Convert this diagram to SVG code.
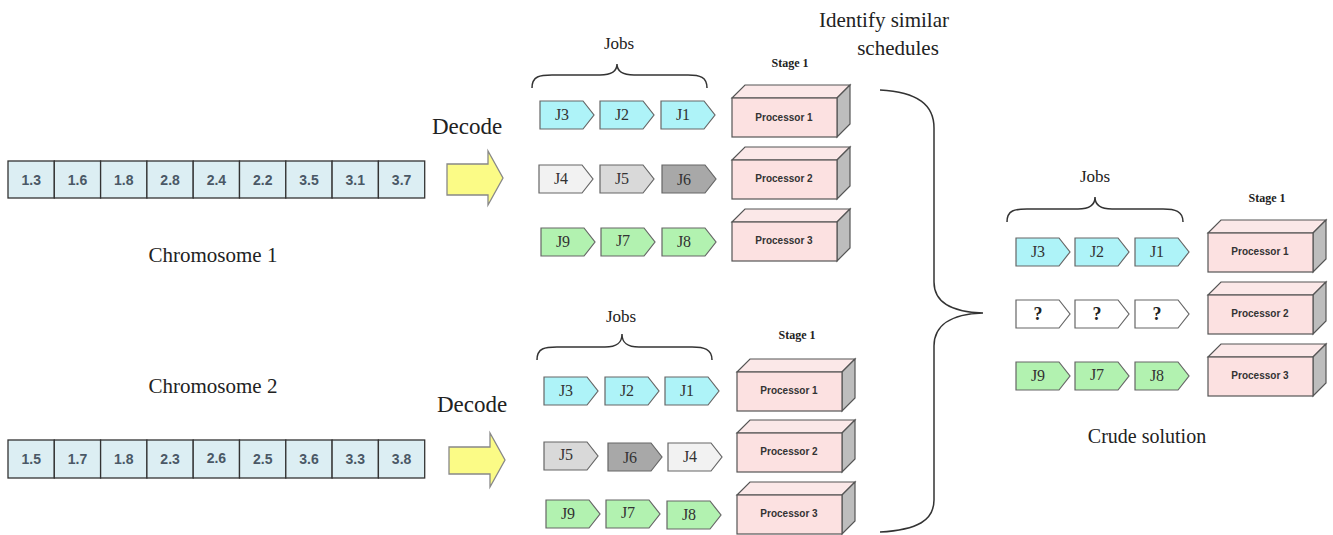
<svg xmlns="http://www.w3.org/2000/svg" xmlns:xlink="http://www.w3.org/1999/xlink" width="1333" height="535" viewBox="0 0 1333 535">
<style>
.cell{fill:#dceef3;stroke:#333;stroke-width:1.3}
.ct{font-family:"Liberation Sans",Arial,sans-serif;font-weight:bold;font-size:14px;fill:#4a5866;text-anchor:middle}
.big{font-family:"Liberation Serif","Times New Roman",serif;font-size:21px;fill:#222;text-anchor:middle}
.jobs{font-family:"Liberation Serif","Times New Roman",serif;font-size:17px;fill:#222;text-anchor:middle}
.jt{font-family:"Liberation Serif","Times New Roman",serif;font-size:16px;fill:#333;text-anchor:middle}
.q{font-family:"Liberation Serif","Times New Roman",serif;font-size:18px;font-weight:bold;fill:#222;text-anchor:middle}
.stage{font-family:"Liberation Serif","Times New Roman",serif;font-size:12px;font-weight:bold;fill:#222;text-anchor:middle}
.pt{font-family:"Liberation Sans",Arial,sans-serif;font-size:10px;font-weight:bold;fill:#333;text-anchor:middle}
.brace{fill:none;stroke:#333;stroke-width:1.5}
.arrow{fill:#fbfb86;stroke:#888;stroke-width:1.3}
.cy{fill:#aef3f8}
.gr{fill:#b2f2b0}
.w{fill:#ffffff}
.g1{fill:#f2f2f2}
.g2{fill:#d9d9d9}
.g3{fill:#a8a8a8}
</style>
<defs>
<path id="job" d="M0,0 H43 L54,14 L43,28 H0 Z" stroke="#666" stroke-width="1.2"/>
<g id="proc" stroke="#555" stroke-width="1.2">
<polygon points="0,0 13,-13 118,-13 105,0" fill="#fbe8e8"/>
<polygon points="105,0 118,-13 118,26 105,39" fill="#bdbdbd"/>
<rect x="0" y="0" width="105" height="39" fill="#fce1e1"/>
</g>
</defs>

<g id="chromosome1">
<rect class="cell" x="8" y="161" width="46.3" height="37"/><text class="ct" x="31.2" y="185">1.3</text>
<rect class="cell" x="54.3" y="161" width="46.3" height="37"/><text class="ct" x="77.5" y="185">1.6</text>
<rect class="cell" x="100.6" y="161" width="46.3" height="37"/><text class="ct" x="123.8" y="185">1.8</text>
<rect class="cell" x="146.9" y="161" width="46.3" height="37"/><text class="ct" x="170.1" y="185">2.8</text>
<rect class="cell" x="193.2" y="161" width="46.3" height="37"/><text class="ct" x="216.4" y="185">2.4</text>
<rect class="cell" x="239.5" y="161" width="46.3" height="37"/><text class="ct" x="262.7" y="185">2.2</text>
<rect class="cell" x="285.8" y="161" width="46.3" height="37"/><text class="ct" x="309" y="185">3.5</text>
<rect class="cell" x="332.1" y="161" width="46.3" height="37"/><text class="ct" x="355.3" y="185">3.1</text>
<rect class="cell" x="378.4" y="161" width="46.3" height="37"/><text class="ct" x="401.6" y="185">3.7</text>
<text class="big" x="213" y="262">Chromosome 1</text>
</g>

<g id="chromosome2">
<rect class="cell" x="8" y="440" width="46.3" height="38"/><text class="ct" x="31.2" y="464">1.5</text>
<rect class="cell" x="54.3" y="440" width="46.3" height="38"/><text class="ct" x="77.5" y="464">1.7</text>
<rect class="cell" x="100.6" y="440" width="46.3" height="38"/><text class="ct" x="123.8" y="464">1.8</text>
<rect class="cell" x="146.9" y="440" width="46.3" height="38"/><text class="ct" x="170.1" y="464">2.3</text>
<rect class="cell" x="193.2" y="440" width="46.3" height="38"/><text class="ct" x="216.4" y="463">2.6</text>
<rect class="cell" x="239.5" y="440" width="46.3" height="38"/><text class="ct" x="262.7" y="464">2.5</text>
<rect class="cell" x="285.8" y="440" width="46.3" height="38"/><text class="ct" x="309" y="464">3.6</text>
<rect class="cell" x="332.1" y="440" width="46.3" height="38"/><text class="ct" x="355.3" y="464">3.3</text>
<rect class="cell" x="378.4" y="440" width="46.3" height="38"/><text class="ct" x="401.6" y="464">3.8</text>
<text class="big" x="213" y="393">Chromosome 2</text>
</g>

<g id="connectors">
<polygon class="arrow" points="447,164 488,164 488,151 503,178 488,205 488,195 447,195"/>
<polygon class="arrow" points="449,447 490,447 490,433 505,460 490,487 490,474 449,474"/>
<path class="brace" d="M880,90 C918,92 934,105 934,128 L934,282 C934,302 950,312 983,313 C950,314 934,326 934,346 L934,500 C934,520 918,530 880,532"/>
</g>

<g id="decode1"><text class="big" x="467" y="134" style="font-size:23px">Decode</text></g>
<g id="decode2"><text class="big" x="472" y="412" style="font-size:23px">Decode</text></g>
<g id="identify"><text class="big" x="884" y="27">Identify similar</text><text class="big" x="898" y="55">schedules</text></g>

<g id="schedule1">
<text class="jobs" x="619" y="49">Jobs</text>
<path class="brace" d="M532,88 C532,76 540,75 552,75 L600,75 C612,75 617,71 617,64 C617,71 622,75 634,75 L688,75 C700,75 707,77 707,88"/>
<text class="stage" x="790" y="67">Stage 1</text>
<use href="#job" xlink:href="#job" x="540" y="101" class="cy"/><text class="jt" x="562" y="120">J3</text>
<use href="#job" xlink:href="#job" x="600" y="101" class="cy"/><text class="jt" x="622" y="120">J2</text>
<use href="#job" xlink:href="#job" x="661" y="101" class="cy"/><text class="jt" x="683" y="120">J1</text>
<use href="#job" xlink:href="#job" x="539" y="165" class="g1"/><text class="jt" x="561" y="184">J4</text>
<use href="#job" xlink:href="#job" x="600" y="165" class="g2"/><text class="jt" x="622" y="184">J5</text>
<use href="#job" xlink:href="#job" x="662" y="165" class="g3"/><text class="jt" x="684" y="185">J6</text>
<use href="#job" xlink:href="#job" x="541" y="228" class="gr"/><text class="jt" x="563" y="247">J9</text>
<use href="#job" xlink:href="#job" x="601" y="228" class="gr"/><text class="jt" x="623" y="246">J7</text>
<use href="#job" xlink:href="#job" x="662" y="228" class="gr"/><text class="jt" x="684" y="247">J8</text>
<use href="#proc" xlink:href="#proc" x="732" y="98"/><text class="pt" x="784" y="121">Processor 1</text>
<use href="#proc" xlink:href="#proc" x="732" y="160"/><text class="pt" x="784" y="182">Processor 2</text>
<use href="#proc" xlink:href="#proc" x="732" y="222"/><text class="pt" x="784" y="244">Processor 3</text>
</g>

<g id="schedule2">
<text class="jobs" x="621" y="322">Jobs</text>
<path class="brace" d="M537,360 C537,348 545,347 557,347 L605,347 C617,347 622,343 622,334 C622,343 627,347 639,347 L692,347 C704,347 712,349 712,360"/>
<text class="stage" x="797" y="339">Stage 1</text>
<use href="#job" xlink:href="#job" x="544" y="377" class="cy"/><text class="jt" x="566" y="396">J3</text>
<use href="#job" xlink:href="#job" x="605" y="377" class="cy"/><text class="jt" x="627" y="396">J2</text>
<use href="#job" xlink:href="#job" x="665" y="377" class="cy"/><text class="jt" x="687" y="396">J1</text>
<use href="#job" xlink:href="#job" x="544" y="442" class="g2"/><text class="jt" x="566" y="460">J5</text>
<use href="#job" xlink:href="#job" x="608" y="443" class="g3"/><text class="jt" x="630" y="463">J6</text>
<use href="#job" xlink:href="#job" x="668" y="443" class="g1"/><text class="jt" x="690" y="462">J4</text>
<use href="#job" xlink:href="#job" x="546" y="500" class="gr"/><text class="jt" x="568" y="519">J9</text>
<use href="#job" xlink:href="#job" x="606" y="500" class="gr"/><text class="jt" x="628" y="518">J7</text>
<use href="#job" xlink:href="#job" x="667" y="501" class="gr"/><text class="jt" x="689" y="520">J8</text>
<use href="#proc" xlink:href="#proc" x="737" y="372"/><text class="pt" x="789" y="394">Processor 1</text>
<use href="#proc" xlink:href="#proc" x="737" y="433"/><text class="pt" x="789" y="455">Processor 2</text>
<use href="#proc" xlink:href="#proc" x="737" y="495"/><text class="pt" x="789" y="517">Processor 3</text>
</g>

<g id="crude">
<text class="jobs" x="1095" y="182">Jobs</text>
<path class="brace" d="M1007,222 C1007,210 1015,209 1027,209 L1078,209 C1090,209 1095,205 1095,197 C1095,205 1100,209 1112,209 L1163,209 C1175,209 1183,211 1183,222"/>
<text class="stage" x="1267" y="202">Stage 1</text>
<use href="#job" xlink:href="#job" x="1016" y="238" class="cy"/><text class="jt" x="1038" y="257">J3</text>
<use href="#job" xlink:href="#job" x="1075" y="238" class="cy"/><text class="jt" x="1097" y="257">J2</text>
<use href="#job" xlink:href="#job" x="1135" y="238" class="cy"/><text class="jt" x="1157" y="257">J1</text>
<use href="#job" xlink:href="#job" x="1016" y="300" class="w"/><text class="q" x="1038" y="320">?</text>
<use href="#job" xlink:href="#job" x="1075" y="300" class="w"/><text class="q" x="1097" y="320">?</text>
<use href="#job" xlink:href="#job" x="1135" y="300" class="w"/><text class="q" x="1157" y="320">?</text>
<use href="#job" xlink:href="#job" x="1016" y="362" class="gr"/><text class="jt" x="1038" y="381">J9</text>
<use href="#job" xlink:href="#job" x="1075" y="362" class="gr"/><text class="jt" x="1097" y="380">J7</text>
<use href="#job" xlink:href="#job" x="1135" y="362" class="gr"/><text class="jt" x="1157" y="381">J8</text>
<use href="#proc" xlink:href="#proc" x="1208" y="233"/><text class="pt" x="1260" y="255">Processor 1</text>
<use href="#proc" xlink:href="#proc" x="1208" y="295"/><text class="pt" x="1260" y="317">Processor 2</text>
<use href="#proc" xlink:href="#proc" x="1208" y="357"/><text class="pt" x="1260" y="379">Processor 3</text>
<text class="big" x="1147" y="443" style="font-size:20px">Crude solution</text>
</g>
</svg>
